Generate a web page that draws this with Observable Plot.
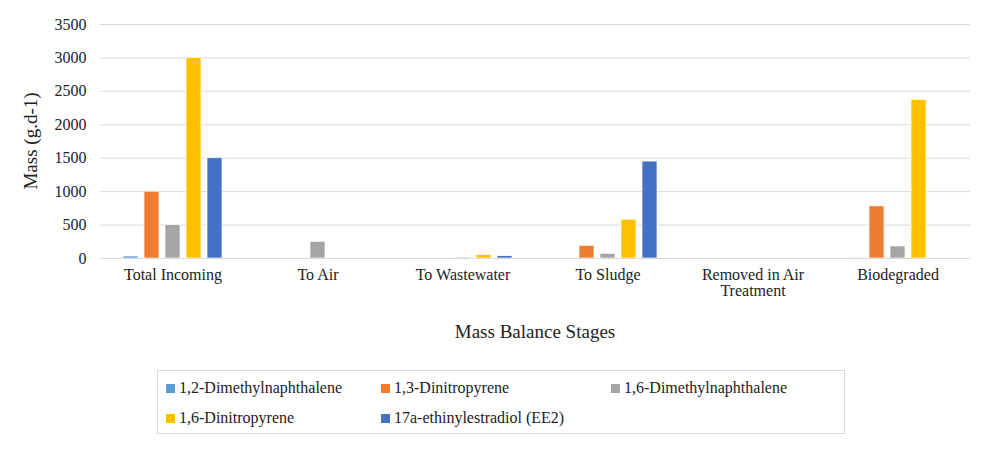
<!DOCTYPE html>
<html><head><meta charset="utf-8">
<script src="https://cdn.jsdelivr.net/npm/d3@7"></script>
<script src="https://cdn.jsdelivr.net/npm/@observablehq/plot@0.6"></script>
<style>
body{margin:0;background:#fff;font-family:'Liberation Serif','Times New Roman','DejaVu Serif',serif;}
svg, svg text{font-family:'Liberation Serif','Times New Roman','DejaVu Serif',serif !important;}
#legend{position:absolute;left:157px;top:370px;width:688px;height:64px;border:1px solid #d9d9d9;box-sizing:border-box;display:grid;grid-template-columns:215px 230px 230px;padding:8px 0 0 8px;row-gap:6px;font-size:16px;color:#222}
#legend span.sw{display:inline-block;width:9px;height:9px;margin-right:4px}
</style></head><body>
<div id="chart"></div>
<div id="legend"></div>
<script>
const stages = ["Total Incoming","To Air","To Wastewater","To Sludge","Removed in Air Treatment","Biodegraded"];
const series = ["1,2-Dimethylnaphthalene","1,3-Dinitropyrene","1,6-Dimethylnaphthalene","1,6-Dinitropyrene","17a-ethinylestradiol (EE2)"];
const colors = ["#5b9bd5","#ed7d31","#a5a5a5","#ffc000","#4472c4"];
const values = [
  [30,1000,500,3000,1500],
  [8,0,250,0,0],
  [0,8,15,50,35],
  [0,190,70,580,1450],
  [0,0,0,0,0],
  [5,780,180,2370,0]
];
const yTicks = [0,500,1000,1500,2000,2500,3000,3500];
const data = [];
stages.forEach((s,i)=>series.forEach((k,j)=>data.push({stage:s,series:k,value:values[i][j]})));
const labels = {"Removed in Air Treatment":"Removed in Air\nTreatment"};
const chart = Plot.plot({
  width:1000,height:350,marginLeft:100,marginRight:30,marginTop:24,marginBottom:92,
  style:{fontFamily:"'Liberation Serif', serif",fontSize:"16px",color:"#222"},
  fx:{domain:stages,padding:0,label:null,tickFormat:d=>labels[d]??d,tickSize:0,tickPadding:10},
  x:{domain:series,axis:null,paddingInner:0.3,paddingOuter:1.1},
  y:{domain:[0,3500],ticks:yTicks,tickFormat:"d",label:null,tickSize:0,tickPadding:14},
  color:{domain:series,range:colors},
  marks:[
    Plot.gridY(yTicks,{stroke:"#d9d9d9",strokeOpacity:1}),
    Plot.barY(data,{fx:"stage",x:"series",y:"value",fill:"series",stroke:"white",strokeWidth:0.7}),
    Plot.ruleY([0],{stroke:"#d9d9d9"})
  ]
});
document.getElementById("chart").appendChild(chart);
const svg=d3.select(chart);
svg.append("text").attr("x",535).attr("y",338).attr("text-anchor","middle").attr("font-size",19).attr("fill","#222").text("Mass Balance Stages");
svg.append("text").attr("transform","translate(37,141) rotate(-90)").attr("text-anchor","middle").attr("font-size",19).attr("fill","#222").text("Mass (g.d-1)");
const lg=document.getElementById("legend");
series.forEach((s,i)=>{const d=document.createElement("div");d.innerHTML=`<span class="sw" style="background:${colors[i]}"></span>${s}`;lg.appendChild(d);});
</script></body></html>
